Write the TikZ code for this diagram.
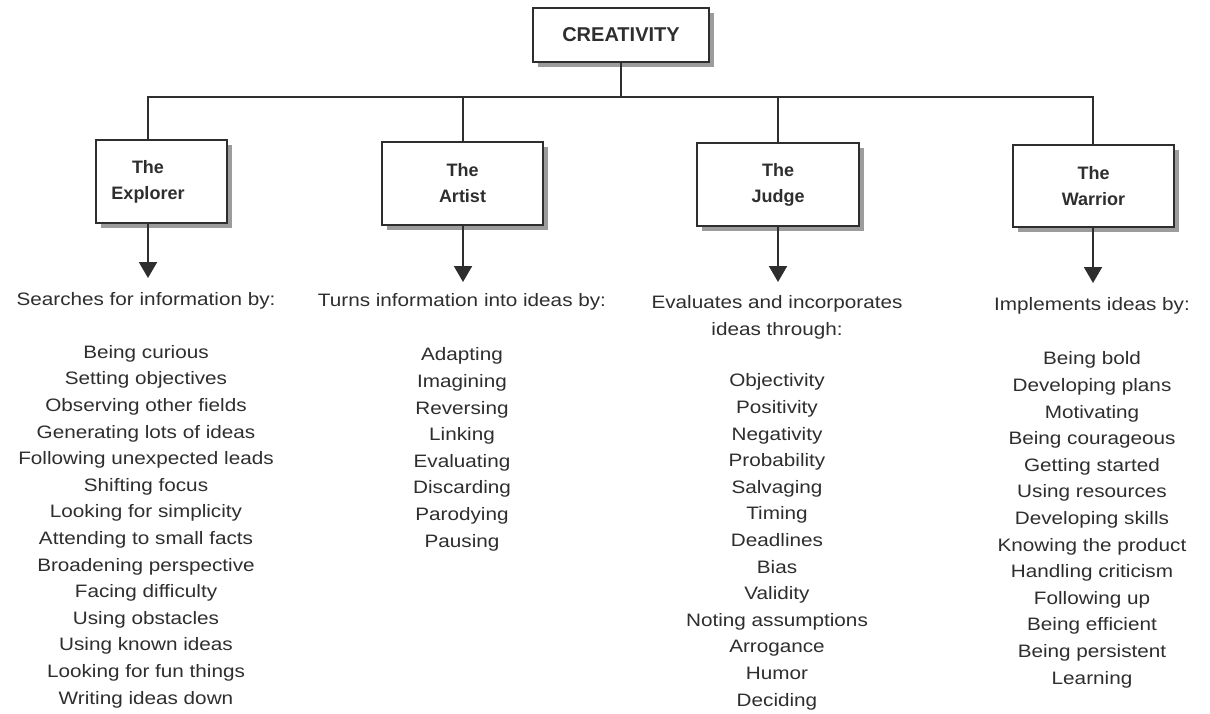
\documentclass[tikz,border=0pt]{standalone}
\usepackage{fontspec}
\setmainfont[FakeStretch=1.15]{Liberation Sans}
\newfontfamily\tfont{Liberation Sans}
\usetikzlibrary{arrows.meta,shadows}
\definecolor{ink}{HTML}{2E2E2E}
\definecolor{shade}{HTML}{9C9C9C}
\begin{document}
\begin{tikzpicture}[x=1pt,y=-1pt,
  box/.style={draw=ink, line width=2pt, fill=white, inner sep=0pt,
    drop shadow={shadow xshift=5pt, shadow yshift=-5pt, fill=shade, opacity=1}},
  title/.style={text=ink, font=\tfont\fontsize{18}{26}\selectfont\bfseries, align=center, inner sep=0pt},
  conn/.style={draw=ink, line width=2pt},
  arr/.style={conn, -{Triangle[width=18pt,length=16pt]}},
  head/.style={text=ink, font=\fontsize{18}{27}\selectfont, align=center, inner sep=0pt, anchor=base},
  list/.style={text=ink, font=\fontsize{18}{26.6}\selectfont, align=center, inner sep=0pt, anchor=base}]
\useasboundingbox (0,0) rectangle (1210,713);
\fill[white] (0,0) rectangle (1210,713);

% boxes
\node[box, minimum width=176pt, minimum height=54pt, text=ink,
      font=\tfont\fontsize{20}{24}\selectfont\bfseries] (top) at (621,35) {CREATIVITY};
\node[box, minimum width=131pt, minimum height=83pt] (exp) at (161.5,181.5) {};
\node[title] (expt) at (148,181.5) {The\\Explorer};
\node[box, minimum width=161pt, minimum height=83pt] (art) at (462.5,183.5) {};
\node[title] (artt) at (art.center) {The\\Artist};
\node[box, minimum width=162pt, minimum height=83pt] (jud) at (778,184.5) {};
\node[title] (judt) at (jud.center) {The\\Judge};
\node[box, minimum width=161pt, minimum height=82pt] (war) at (1093.5,186) {};
\node[title] (wart) at (war.center) {The\\Warrior};

% junctions
\coordinate (jT) at (621,97);
\coordinate (jE) at (148,97);
\coordinate (jA) at (463,97);
\coordinate (jJ) at (778,97);
\coordinate (jW) at (1093,97);
\coordinate (aE) at (148,278);
\coordinate (aA) at (463,282);
\coordinate (aJ) at (778,282);
\coordinate (aW) at (1093,283);

\draw[conn] (top.south) -- (jT);
\draw[conn, line cap=rect] (jE) -- (jW);
\draw[conn] (jE) -- (jE |- exp.north);
\draw[conn] (jA) -- (jA |- art.north);
\draw[conn] (jJ) -- (jJ |- jud.north);
\draw[conn] (jW) -- (jW |- war.north);

\draw[arr] (jE |- exp.south) -- (aE);
\draw[arr] (jA |- art.south) -- (aA);
\draw[arr] (jJ |- jud.south) -- (aJ);
\draw[arr] (jW |- war.south) -- (aW);

% texts (anchor base = baseline of the last line)
\node[head] (eh) at (146,305) {Searches for information by:};
\node[list] (el) at (146,704) {Being curious\\Setting objectives\\Observing other fields\\Generating lots of ideas\\Following unexpected leads\\Shifting focus\\Looking for simplicity\\Attending to small facts\\Broadening perspective\\Facing difficulty\\Using obstacles\\Using known ideas\\Looking for fun things\\Writing ideas down};

\node[head] (ah) at (462,306) {Turns information into ideas by:};
\node[list] (al) at (462,547) {Adapting\\Imagining\\Reversing\\Linking\\Evaluating\\Discarding\\Parodying\\Pausing};

\node[head] (jh) at (777,335) {Evaluates and incorporates\\ideas through:};
\node[list] (jl) at (777,706) {Objectivity\\Positivity\\Negativity\\Probability\\Salvaging\\Timing\\Deadlines\\Bias\\Validity\\Noting assumptions\\Arrogance\\Humor\\Deciding};

\node[head] (wh) at (1092,310) {Implements ideas by:};
\node[list] (wl) at (1092,684) {Being bold\\Developing plans\\Motivating\\Being courageous\\Getting started\\Using resources\\Developing skills\\Knowing the product\\Handling criticism\\Following up\\Being efficient\\Being persistent\\Learning};
\end{tikzpicture}
\end{document}
